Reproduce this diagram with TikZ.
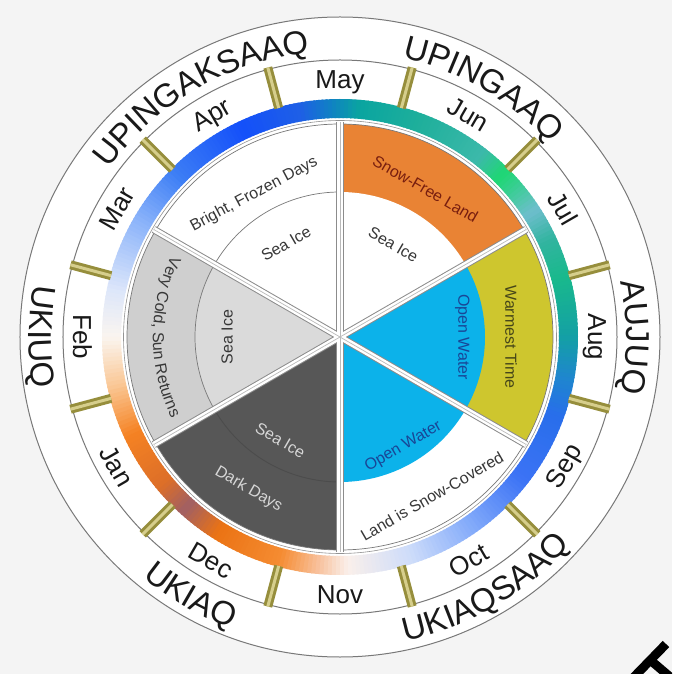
\documentclass[tikz,border=0pt]{standalone}
\usepackage{fontspec}
\setmainfont{Liberation Sans}
\usetikzlibrary{decorations.text}

\definecolor{bggray}{RGB}{244,244,244}
\definecolor{linec}{RGB}{120,120,120}
\definecolor{orangeband}{RGB}{233,131,52}
\definecolor{oliveband}{RGB}{206,198,46}
\definecolor{waterblue}{RGB}{12,178,234}
\definecolor{lgrayout}{RGB}{207,207,207}
\definecolor{lgrayin}{RGB}{218,218,218}
\definecolor{dgray}{RGB}{87,87,87}
\definecolor{tickdark}{RGB}{150,142,60}
\definecolor{ticklight}{RGB}{214,206,140}
\definecolor{divdark}{RGB}{140,140,140}
\definecolor{labtext}{RGB}{55,55,55}
\definecolor{snowred}{RGB}{120,30,15}
\definecolor{warmtext}{RGB}{70,70,25}
\definecolor{watertext}{RGB}{25,70,150}
\definecolor{lighttext}{RGB}{215,215,215}
\definecolor{seasontext}{RGB}{25,25,25}
% ring colour stops
\definecolor{r0}{RGB}{20,160,165}
\definecolor{r15}{RGB}{25,185,140}
\definecolor{r25}{RGB}{50,180,160}
\definecolor{r33}{RGB}{110,190,205}
\definecolor{r40}{RGB}{60,205,150}
\definecolor{r45}{RGB}{30,215,115}
\definecolor{r52}{RGB}{60,185,170}
\definecolor{r70}{RGB}{30,175,155}
\definecolor{r85}{RGB}{10,165,160}
\definecolor{r92}{RGB}{15,130,195}
\definecolor{r100}{RGB}{30,95,230}
\definecolor{r115}{RGB}{20,80,250}
\definecolor{r135}{RGB}{60,125,245}
\definecolor{r150}{RGB}{140,180,250}
\definecolor{r168}{RGB}{220,230,250}
\definecolor{r180}{RGB}{250,245,240}
\definecolor{r192}{RGB}{250,200,150}
\definecolor{r205}{RGB}{245,130,35}
\definecolor{r220}{RGB}{220,110,40}
\definecolor{r228}{RGB}{160,95,100}
\definecolor{r238}{RGB}{235,115,20}
\definecolor{r255}{RGB}{245,140,50}
\definecolor{r265}{RGB}{248,195,160}
\definecolor{r272}{RGB}{250,240,235}
\definecolor{r288}{RGB}{205,220,250}
\definecolor{r305}{RGB}{130,170,250}
\definecolor{r322}{RGB}{60,115,245}
\definecolor{r340}{RGB}{40,110,235}
\definecolor{r350}{RGB}{30,135,205}

\newcommand\seasonfont{\fontsize{33}{33}\selectfont}
\newcommand\monthfont{\fontsize{26}{26}\selectfont}
\newcommand\labfont{\fontsize{16}{16}\selectfont}

\newcommand\pieWedge[4]{\fill[#4] (0,0) -- (#1:#3) arc[start angle=#1, end angle=#2, radius=#3] -- cycle;}
% clockwise text: tops outward
\newcommand\cwtext[5]{\path[decorate, decoration={text along path, text align=center, text={|#4|#5}}] (#1+#2:#3) arc[start angle=#1+#2, end angle=#1-#2, radius=#3];}
% counter-clockwise text: tops inward
\newcommand\ccwtext[5]{\path[decorate, decoration={text along path, text align=center, text={|#4|#5}}] (#1-#2:#3) arc[start angle=#1-#2, end angle=#1+#2, radius=#3];}

\begin{document}
\begin{tikzpicture}[x=1pt,y=1pt,
  monthlab/.style={font=\monthfont, inner sep=0pt, text height=18.6pt, text depth=0pt, text=seasontext},
  innerlab/.style={font=\labfont, inner sep=0pt, text height=11.4pt, text depth=0pt},
  arcline/.style={draw=linec, line width=0.7}]
\useasboundingbox (-340,-337) rectangle (332,337);
\clip (-340,-337) rectangle (332,337);
\fill[bggray] (-340,-337) rectangle (332,337);
\fill[white] (0,0) circle (320);
\draw[linec, line width=1] (0,0) circle (320);
\draw[linec, line width=1] (0,0) circle (277);

% gradient ring
\foreach \a/\b/\ca/\cb in {0/15/r0/r15, 15/25/r15/r25, 25/33/r25/r33, 33/40/r33/r40, 40/45/r40/r45, 45/52/r45/r52, 52/70/r52/r70, 70/85/r70/r85, 85/92/r85/r92, 92/100/r92/r100, 100/115/r100/r115, 115/135/r115/r135, 135/150/r135/r150, 150/168/r150/r168, 168/180/r168/r180, 180/192/r180/r192, 192/205/r192/r205, 205/220/r205/r220, 220/228/r220/r228, 228/238/r228/r238, 238/255/r238/r255, 255/265/r255/r265, 265/272/r265/r272, 272/288/r272/r288, 288/305/r288/r305, 305/322/r305/r322, 322/340/r322/r340, 340/350/r340/r350, 350/360/r350/r0}{
  \pgfmathtruncatemacro\n{\b-\a-1}
  \foreach \k in {0,...,\n}{
    \pgfmathtruncatemacro\p{100*(\k+0.5)/(\b-\a)}
    \pgfmathsetmacro\s{\a+\k}
    \pgfmathsetmacro\e{\a+\k+1.4}
    \fill[\cb!\p!\ca] (\s:219) arc[start angle=\s, end angle=\e, radius=219] -- (\e:238) arc[start angle=\e, end angle=\s, radius=238] -- cycle;
  }
}

% month ticks
\foreach \a in {15,45,...,345}{
  \draw[tickdark, line width=9] (\a:237) -- (\a:279);
  \draw[ticklight, line width=3] (\a:237) -- (\a:279);
}

% pie sectors
\pieWedge{90}{150}{213}{white}
\pieWedge{30}{90}{213}{orangeband}
\pieWedge{30}{90}{145}{white}
\pieWedge{-30}{30}{213}{oliveband}
\pieWedge{-30}{30}{145}{waterblue}
\pieWedge{-90}{-30}{213}{white}
\pieWedge{-90}{-30}{145}{waterblue}
\pieWedge{210}{270}{213}{dgray}
\pieWedge{150}{210}{213}{lgrayout}
\pieWedge{150}{210}{145}{lgrayin}
\draw[arcline] (90:145) arc[start angle=90, end angle=150, radius=145];
\draw[arcline] (150:145) arc[start angle=150, end angle=210, radius=145];
\draw[draw=black!70, line width=0.9] (210:145) arc[start angle=210, end angle=270, radius=145];
\draw[arcline] (0,0) circle (213);
\draw[draw=linec!80, line width=0.6] (0,0) circle (216.5);

% dividers
\foreach \a in {30,90,...,330}{\draw[divdark, line width=7.5] (0,0) -- (\a:215);}
\foreach \a in {30,90,...,330}{\draw[white, line width=5.5] (0,0) -- (\a:215);}
\foreach \a in {30,90,...,330}{\draw[divdark!60, line width=0.7] (0,0) -- (\a:215);}

% sector labels
\ccwtext{180}{60}{187}{\labfont\color{labtext}}{Very Cold, Sun Returns}
\node[innerlab, text=labtext, rotate=28] (bfd) at (121:168) {Bright, Frozen Days};
\node[innerlab, text=snowred, rotate=-30] (sfl) at (60:171) {Snow-Free Land};
\node[innerlab, text=warmtext, rotate=-90] (wt) at (0:171) {Warmest Time};
\node[innerlab, text=watertext, rotate=-90] (ow1) at (0:124) {Open Water};
\node[innerlab, text=labtext, rotate=30] (lsc) at (-60:184) {Land is Snow-Covered};
\node[innerlab, text=lighttext, rotate=-30] (dd) at (-121:176) {Dark Days};
\node[innerlab, text=labtext, rotate=30] (si1) at (120:108) {Sea Ice};
\node[innerlab, text=labtext, rotate=-30] (si2) at (60:107) {Sea Ice};
\node[innerlab, text=watertext, rotate=30] (ow2) at (-60:125) {Open Water};
\node[innerlab, text=lighttext, rotate=-30] (si5) at (-120:119) {Sea Ice};
\node[innerlab, text=labtext, rotate=90] (si6) at (180:113) {Sea Ice};

% months
\foreach \m/\a/\r in {May/90/0, Jun/60/-30, Jul/30/-60, Aug/0/-90, Sep/-30/60, Oct/-60/30, Nov/-90/0, Dec/-120/-30, Jan/-150/-60, Feb/180/-90, Mar/150/60, Apr/120/30}{
  \node[monthlab, rotate=\r] (m\m) at (\a:257.5) {\m};
}

% seasons
\cwtext{120}{80}{286}{\seasonfont\color{seasontext}}{UPINGAKSAAQ}
\cwtext{60}{80}{286}{\seasonfont\color{seasontext}}{UPINGAAQ}
\cwtext{0}{80}{286}{\seasonfont\color{seasontext}}{AUJUQ}
\ccwtext{-60}{80}{311}{\seasonfont\color{seasontext}}{UKIAQSAAQ}
\ccwtext{-120}{80}{311}{\seasonfont\color{seasontext}}{UKIAQ}
\ccwtext{180}{80}{311}{\seasonfont\color{seasontext}}{UKIUQ}

% corner mark
\draw[black, line width=9] (292,-342) -- (326,-307);
\draw[black, line width=9] (309,-322) -- (336,-345);
\end{tikzpicture}
\end{document}
